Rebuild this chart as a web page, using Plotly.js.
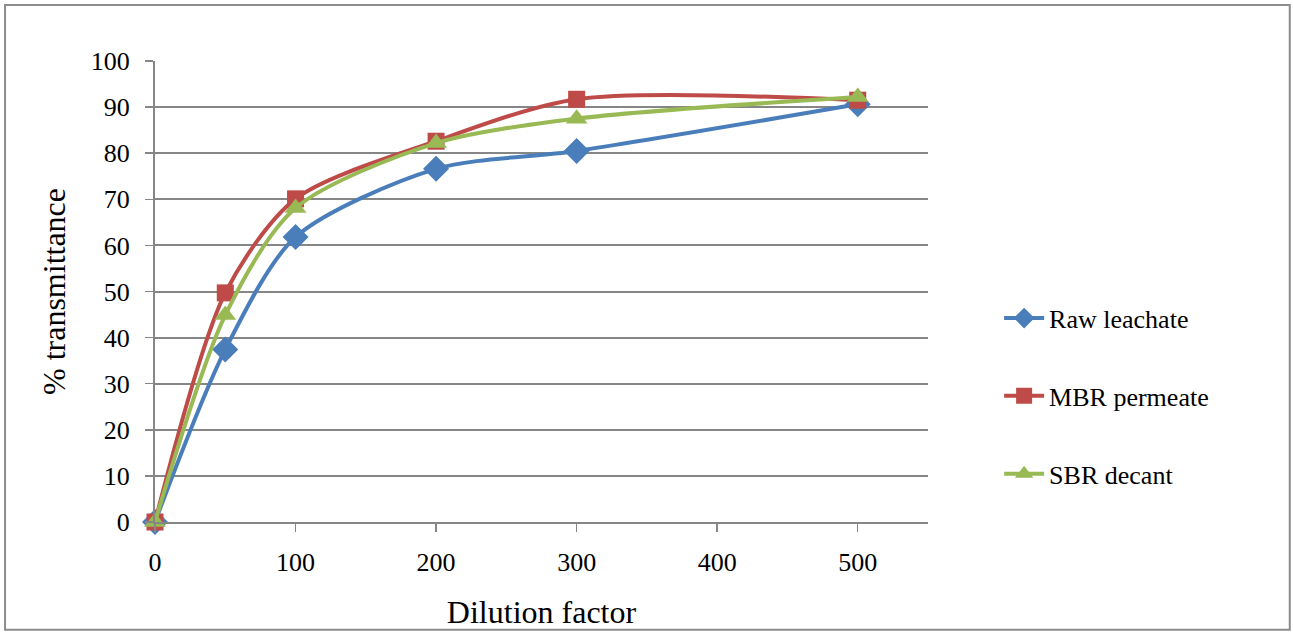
<!DOCTYPE html>
<html>
<head>
<meta charset="utf-8">
<script src="https://cdn.plot.ly/plotly-3.0.1.min.js"></script>
<style>
  html, body { margin: 0; padding: 0; background: #ffffff; }
  #chart { width: 1293px; height: 634px; }
</style>
</head>
<body>
<div id="chart"></div>
<script>
// Dilution factors and % transmittance for each sample
const dilution = [0, 50, 100, 200, 300, 500];
const rawLeachate = [0, 37.4, 61.8, 76.6, 80.5, 90.6];
const mbrPermeate = [0, 49.7, 70.1, 82.6, 91.7, 91.5];
const sbrDecant = [0, 44.9, 68.1, 82.2, 87.5, 92.2];

const seriesNames = ['Raw leachate', 'MBR permeate', 'SBR decant'];
const xTicks = [0, 100, 200, 300, 400, 500];
const yTicks = [0, 10, 20, 30, 40, 50, 60, 70, 80, 90, 100];

const serif = "'Liberation Serif', 'Times New Roman', serif";

function series(name, y, color, symbol, size, group) {
  return {
    type: 'scatter',
    mode: 'lines+markers',
    name: name,
    x: dilution,
    y: y,
    legendgroup: group,
    cliponaxis: false,
    line: { color: color, width: 4, shape: 'spline', smoothing: 0.8 },
    marker: { color: color, symbol: symbol, size: size }
  };
}

const traces = [
  series(seriesNames[0], rawLeachate, '#4a7ebb', 'diamond', 20, 'a'),
  series(seriesNames[1], mbrPermeate, '#be4b48', 'square', 17, 'b'),
  series(seriesNames[2], sbrDecant, '#98b954', 'triangle-up', 19, 'c')
];

const layout = {
  width: 1293,
  height: 634,
  margin: { l: 155, r: 365, t: 61, b: 112 },
  paper_bgcolor: '#ffffff',
  plot_bgcolor: '#ffffff',
  font: { family: serif, size: 26, color: '#000000' },
  showlegend: true,
  legend: {
    x: 1.092, xanchor: 'left',
    y: 0.273, yanchor: 'middle',
    font: { family: serif, size: 26, color: '#000000' },
    tracegroupgap: 41,
    traceorder: 'grouped',
    itemwidth: 40,
    bgcolor: 'rgba(0,0,0,0)'
  },
  xaxis: {
    range: [0, 550],
    tickvals: xTicks,
    ticktext: xTicks.map(String),
    showgrid: false,
    zeroline: false,
    showline: true,
    linecolor: '#868686',
    linewidth: 2,
    ticks: 'outside',
    ticklen: 8,
    tickwidth: 1.5,
    tickcolor: '#868686',
    ticklabelstandoff: 8,
    tickfont: { family: serif, size: 26, color: '#000000' },
    title: { text: 'Dilution factor', font: { family: serif, size: 32, color: '#000000' }, standoff: 24 }
  },
  yaxis: {
    range: [0, 100],
    tickvals: yTicks,
    ticktext: yTicks.map(String),
    showgrid: true,
    gridcolor: '#868686',
    gridwidth: 2,
    zeroline: false,
    showline: true,
    linecolor: '#868686',
    linewidth: 2,
    ticks: 'outside',
    ticklen: 8,
    tickwidth: 1.5,
    tickcolor: '#868686',
    ticklabelstandoff: 10,
    tickfont: { family: serif, size: 26, color: '#000000' },
    title: { text: '% transmittance', font: { family: serif, size: 32, color: '#000000' }, standoff: 16 }
  },
  shapes: [{
    type: 'rect',
    xref: 'paper', yref: 'paper',
    x0: -0.194, x1: 1.468,
    y0: -0.234, y1: 1.1215,
    line: { color: '#8c8c8c', width: 2 },
    fillcolor: 'rgba(0,0,0,0)',
    layer: 'below'
  }]
};

Plotly.newPlot('chart', traces, layout, { displayModeBar: false, staticPlot: true });
</script>
</body>
</html>
